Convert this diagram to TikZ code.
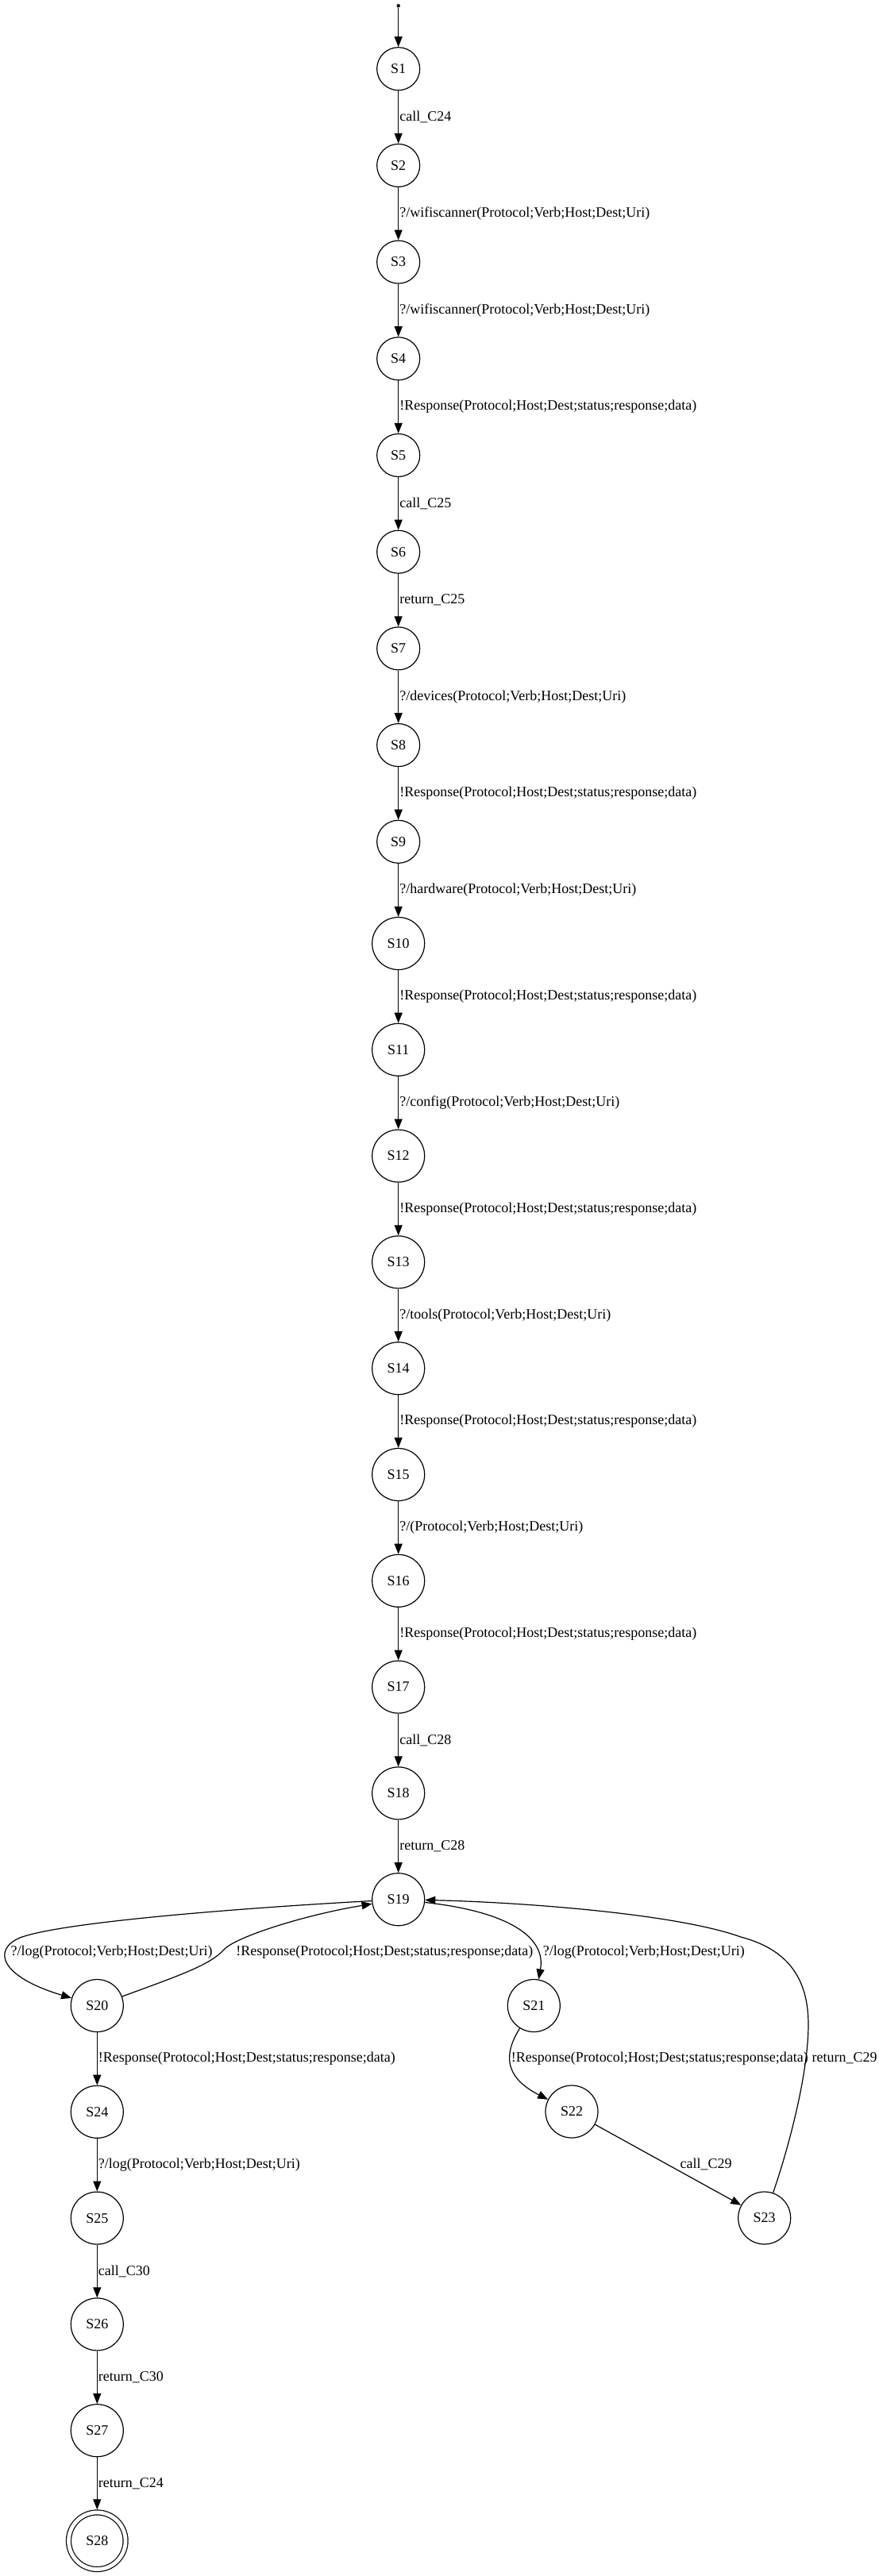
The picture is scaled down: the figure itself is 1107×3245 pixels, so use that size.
\documentclass[tikz,border=0pt]{standalone}
\usepackage{fontspec}
\setmainfont{Liberation Serif}
\usetikzlibrary{arrows.meta}

\begin{document}
\begin{tikzpicture}[x=1pt,y=-1pt,
  every node/.style={font=\fontsize{18}{20}\selectfont},
  state/.style={draw, circle, line width=1.2pt, inner sep=0pt, minimum size=54pt},
  wide/.style={minimum size=66pt},
  final/.style={state, minimum size=71.6pt, double, double distance=4.8pt, outer sep=3.6pt},
  initdot/.style={circle, fill, inner sep=0pt, minimum size=4.4pt},
  trans/.style={-{Triangle[length=13pt,width=10pt]}, line width=1.2pt},
  lbl/.style={anchor=west, inner sep=0pt, xshift=1pt},
  freelbl/.style={anchor=west, inner sep=0pt}
]
\useasboundingbox (0,0) rectangle (1107,3245);

% main column
\node[initdot] (init) at (501.7,7.3) {};
\node[state] (S1) at (501.7,86.7) {S1};
\node[state] (S2) at (501.7,208.4) {S2};
\node[state] (S3) at (501.7,330.1) {S3};
\node[state] (S4) at (501.7,451.8) {S4};
\node[state] (S5) at (501.7,573.5) {S5};
\node[state] (S6) at (501.7,695.2) {S6};
\node[state] (S7) at (501.7,816.9) {S7};
\node[state] (S8) at (501.7,938.6) {S8};
\node[state] (S9) at (501.7,1060.3) {S9};
\node[state,wide] (S10) at (501.7,1188.5) {S10};
\node[state,wide] (S11) at (501.7,1322.3) {S11};
\node[state,wide] (S12) at (501.7,1456.1) {S12};
\node[state,wide] (S13) at (501.7,1589.9) {S13};
\node[state,wide] (S14) at (501.7,1723.7) {S14};
\node[state,wide] (S15) at (501.7,1857.5) {S15};
\node[state,wide] (S16) at (501.7,1991.3) {S16};
\node[state,wide] (S17) at (501.7,2125.1) {S17};
\node[state,wide] (S18) at (501.7,2258.9) {S18};
\node[state,wide] (S19) at (501.7,2392.7) {S19};

% left branch
\node[state,wide] (S20) at (122.3,2526.5) {S20};
\node[state,wide] (S24) at (122.3,2660.3) {S24};
\node[state,wide] (S25) at (122.3,2794.1) {S25};
\node[state,wide] (S26) at (122.3,2927.9) {S26};
\node[state,wide] (S27) at (122.3,3061.7) {S27};
\node[final] (S28) at (122.3,3200.7) {S28};

% right branch
\node[state,wide] (S21) at (672.3,2526.5) {S21};
\node[state,wide] (S22) at (720,2660) {S22};
\node[state,wide] (S23) at (962.7,2794) {S23};

% straight transitions
\draw[trans] (init) -- (S1);
\draw[trans] (S1) -- node[lbl] {call\_C24} (S2);
\draw[trans] (S2) -- node[lbl] {?/wifiscanner(Protocol;Verb;Host;Dest;Uri)} (S3);
\draw[trans] (S3) -- node[lbl] {?/wifiscanner(Protocol;Verb;Host;Dest;Uri)} (S4);
\draw[trans] (S4) -- node[lbl] {!Response(Protocol;Host;Dest;status;response;data)} (S5);
\draw[trans] (S5) -- node[lbl] {call\_C25} (S6);
\draw[trans] (S6) -- node[lbl] {return\_C25} (S7);
\draw[trans] (S7) -- node[lbl] {?/devices(Protocol;Verb;Host;Dest;Uri)} (S8);
\draw[trans] (S8) -- node[lbl] {!Response(Protocol;Host;Dest;status;response;data)} (S9);
\draw[trans] (S9) -- node[lbl] {?/hardware(Protocol;Verb;Host;Dest;Uri)} (S10);
\draw[trans] (S10) -- node[lbl] {!Response(Protocol;Host;Dest;status;response;data)} (S11);
\draw[trans] (S11) -- node[lbl] {?/config(Protocol;Verb;Host;Dest;Uri)} (S12);
\draw[trans] (S12) -- node[lbl] {!Response(Protocol;Host;Dest;status;response;data)} (S13);
\draw[trans] (S13) -- node[lbl] {?/tools(Protocol;Verb;Host;Dest;Uri)} (S14);
\draw[trans] (S14) -- node[lbl] {!Response(Protocol;Host;Dest;status;response;data)} (S15);
\draw[trans] (S15) -- node[lbl] {?/(Protocol;Verb;Host;Dest;Uri)} (S16);
\draw[trans] (S16) -- node[lbl] {!Response(Protocol;Host;Dest;status;response;data)} (S17);
\draw[trans] (S17) -- node[lbl] {call\_C28} (S18);
\draw[trans] (S18) -- node[lbl] {return\_C28} (S19);

\draw[trans] (S20) -- node[lbl] {!Response(Protocol;Host;Dest;status;response;data)} (S24);
\draw[trans] (S24) -- node[lbl] {?/log(Protocol;Verb;Host;Dest;Uri)} (S25);
\draw[trans] (S25) -- node[lbl] {call\_C30} (S26);
\draw[trans] (S26) -- node[lbl] {return\_C30} (S27);
\draw[trans] (S27) -- node[lbl] {return\_C24} (S28);

% curved transitions around S19
\draw[trans] (S19) .. controls (330,2402) and (80,2420) .. (25,2441)
  .. controls (-10,2456) and (0,2490) .. (S20)
  node[freelbl, at={(13,2459.3)}] {?/log(Protocol;Verb;Host;Dest;Uri)};
\draw[trans] (S20) .. controls (230,2487) and (265,2475) .. (283,2455)
  .. controls (298,2440) and (380,2413) .. (S19)
  node[freelbl, at={(296.7,2459.3)}] {!Response(Protocol;Host;Dest;status;response;data)};
\draw[trans] (S19) .. controls (640,2408) and (688,2440) .. (S21)
  node[freelbl, at={(683.3,2459.3)}] {?/log(Protocol;Verb;Host;Dest;Uri)};
\draw[trans] (S21) .. controls (636,2585) and (632,2615) .. (S22)
  node[freelbl, at={(643.3,2592.7)}] {!Response(Protocol;Host;Dest;status;response;data)};
\draw[trans] (S22) -- (S23)
  node[freelbl, at={(856,2726)}] {call\_C29};
\draw[trans] (S23) .. controls (995,2700) and (1018,2610) .. (1018,2550)
  .. controls (1018,2490) and (990,2455) .. (933,2440)
  .. controls (850,2410) and (650,2396) .. (S19)
  node[freelbl, at={(1022,2592.7)}] {return\_C29};
\end{tikzpicture}
\end{document}
